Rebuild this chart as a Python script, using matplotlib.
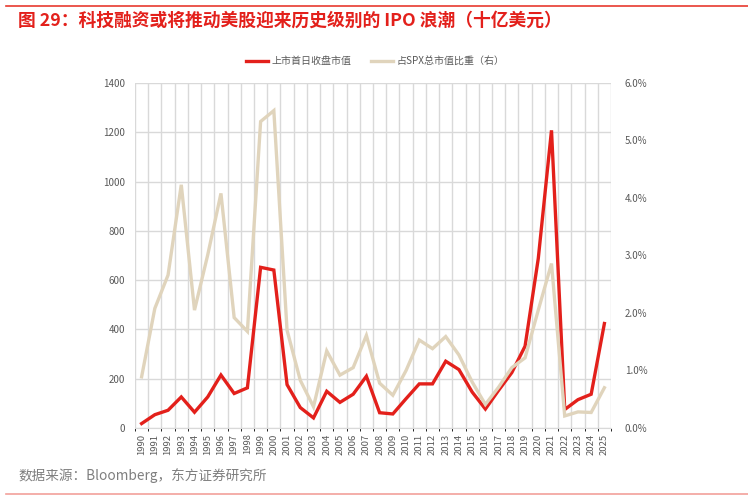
import matplotlib
matplotlib.use("Agg")
import matplotlib.pyplot as plt
from matplotlib.ticker import FuncFormatter

plt.rcParams['font.family'] = ['Noto Sans CJK SC', 'DejaVu Sans']

years = [str(y) for y in range(1990, 2026)]
ipo_value = [18, 54, 72, 126, 64, 126, 215, 140, 163, 652, 641, 176, 83, 41, 149, 104,
             137, 210, 62, 57, 119, 179, 179, 271, 237, 146, 77, 153, 225, 332, 688, 1208,
             75, 115, 137, 424]
spx_share = [0.89, 2.08, 2.66, 4.23, 2.05, 3.01, 4.08, 1.92, 1.68, 5.33, 5.52, 1.70, 0.83,
             0.37, 1.34, 0.92, 1.05, 1.61, 0.78, 0.57, 1.00, 1.53, 1.38, 1.59, 1.27, 0.80,
             0.41, 0.71, 1.05, 1.22, 2.05, 2.86, 0.21, 0.28, 0.27, 0.70]

red = '#e3201b'
beige = '#e0d4bc'
grid = '#d9d9d9'
tick_col = '#595959'

fig = plt.figure(figsize=(7.48, 5.0), dpi=100)
W, H = 748, 500

# decoration lines and texts
fig.add_artist(plt.Line2D([6 / W, 1], [1 - 6 / H, 1 - 6 / H], color='#e8392f', lw=1.2))
fig.add_artist(plt.Line2D([6 / W, 1], [1 - 494 / H, 1 - 494 / H], color='#f2a19b', lw=1.2))
fig.text(18 / W, 1 - 21 / H, '图 29：科技融资或将推动美股迎来历史级别的 IPO 浪潮（十亿美元）',
         color='#e3201b', fontsize=12.8, fontweight='bold', va='center', ha='left')
fig.text(18 / W, 1 - 476 / H, '数据来源：Bloomberg，东方证券研究所',
         color='#7f7f7f', fontsize=9.8, va='center', ha='left')

ax = fig.add_axes([135 / W, 1 - 428 / H, (611 - 135) / W, (428 - 83) / H])
ax2 = ax.twinx()

x = list(range(len(years)))
l1, = ax.plot(x, ipo_value, color=red, lw=2.4, label='上市首日收盘市值', solid_joinstyle='miter')
l2, = ax2.plot(x, spx_share, color=beige, lw=2.4, label='占SPX总市值比重（右）', solid_joinstyle='miter')

ax.set_xlim(-0.5, len(years) - 0.5)
ax.set_ylim(0, 1400)
ax.set_yticks(range(0, 1401, 200))
ax2.set_ylim(0, 6)
ax2.set_yticks([0, 1, 2, 3, 4, 5, 6])
ax2.yaxis.set_major_formatter(FuncFormatter(lambda v, p: '%.1f%%' % v))

ax.set_xticks(x)
ax.set_xticklabels(years, rotation=90)
ax.set_xticks([i - 0.5 for i in range(len(years) + 1)], minor=True)
ax.grid(True, which='minor', axis='x', color=grid, lw=1)
ax.grid(True, which='major', axis='y', color=grid, lw=1)
ax.set_axisbelow(True)

for a in (ax, ax2):
    for s in a.spines.values():
        s.set_visible(False)
    a.tick_params(length=0, labelsize=7, colors=tick_col)
ax.tick_params(axis='y', pad=7)
ax.tick_params(axis='x', pad=4, labelsize=6.8)
ax2.tick_params(axis='y', pad=10)
ax.spines['bottom'].set_visible(True)
ax.spines['bottom'].set_color(grid)

fig.legend(handles=[l1, l2], loc='center', bbox_to_anchor=(375 / W, 1 - 61 / H), ncol=2,
           frameon=False, fontsize=7.2, handlelength=2.2, columnspacing=2.0, handletextpad=0.3,
           labelcolor=tick_col)

fig.savefig('out.png', dpi=100, facecolor='white')
